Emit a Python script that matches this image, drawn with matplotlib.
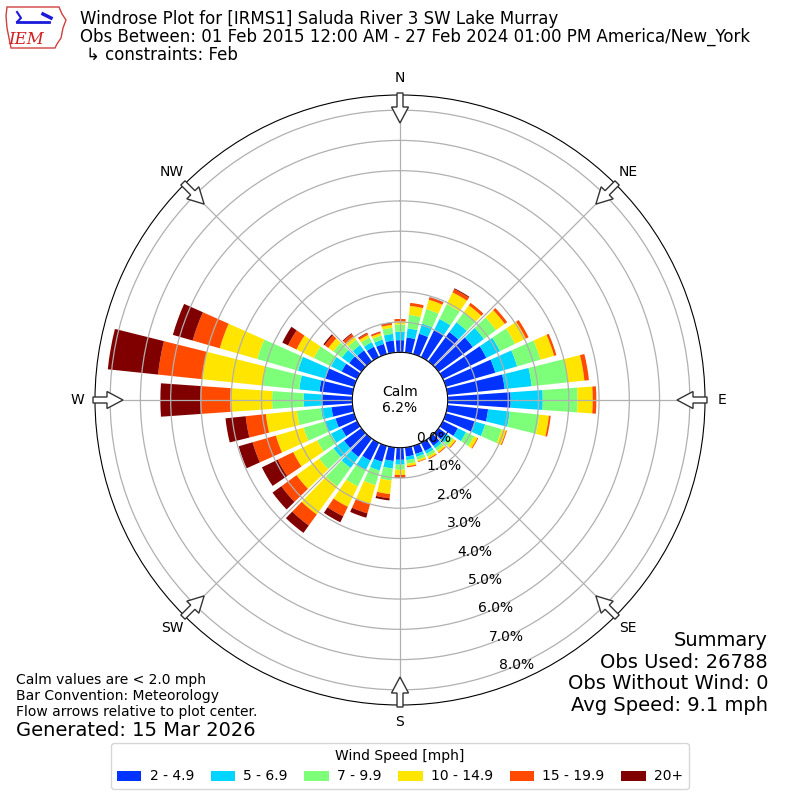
import numpy as np
import matplotlib
matplotlib.use("Agg")
import matplotlib.pyplot as plt
from matplotlib.patches import FancyArrow, Polygon

# direction bins (deg, meteorological), 10 deg wide
directions = np.arange(0, 360, 10)
speed_labels = ["2 - 4.9", "5 - 6.9", "7 - 9.9", "10 - 14.9", "15 - 19.9", "20+"]
speed_colors = ["#0033ff", "#00d4ff", "#7dff7a", "#ffe500", "#ff4a00", "#800000"]

# frequency [%] per direction for each speed bin, 0..350 deg
spd_2_5 = [0.40, 0.50, 0.70, 1.00, 1.20, 1.40, 1.60, 1.70, 1.90, 2.08, 1.35, 1.00,
           0.55, 0.30, 0.30, 0.30, 0.28, 0.30, 0.40, 0.45, 0.55, 0.65, 0.75, 0.71,
           0.57, 0.64, 0.70, 1.00, 1.10, 0.99, 0.57, 0.50, 0.45, 0.38, 0.35, 0.40]
spd_5_7 = [0.28, 0.30, 0.35, 0.40, 0.40, 0.45, 0.50, 0.75, 0.90, 1.06, 0.72, 0.35,
           0.30, 0.15, 0.10, 0.10, 0.10, 0.12, 0.16, 0.25, 0.30, 0.35, 0.45, 0.43,
           0.39, 0.35, 0.35, 0.61, 0.67, 0.94, 0.39, 0.30, 0.22, 0.17, 0.15, 0.22]
spd_7_10 = [0.24, 0.45, 0.50, 0.55, 0.42, 0.50, 0.55, 0.80, 1.20, 1.15, 0.98, 0.57,
            0.30, 0.15, 0.10, 0.10, 0.10, 0.12, 0.17, 0.40, 0.50, 0.60, 0.75, 0.58,
            0.51, 0.75, 0.80, 1.04, 1.22, 1.40, 0.63, 0.35, 0.22, 0.17, 0.14, 0.20]
spd_10_15 = [0.10, 0.30, 0.32, 0.43, 0.27, 0.35, 0.40, 0.47, 0.55, 0.50, 0.32, 0.15,
             0.12, 0.09, 0.07, 0.07, 0.06, 0.08, 0.17, 0.45, 0.65, 0.75, 1.15, 0.93,
             0.88, 0.95, 1.03, 1.38, 2.01, 1.29, 0.64, 0.20, 0.13, 0.10, 0.08, 0.10]
spd_15_20 = [0.08, 0.10, 0.08, 0.12, 0.10, 0.10, 0.10, 0.08, 0.15, 0.12, 0.06, 0.03,
             0.03, 0.03, 0.03, 0.03, 0.02, 0.04, 0.08, 0.14, 0.32, 0.35, 0.45, 0.62,
             0.57, 0.80, 0.67, 0.99, 1.46, 0.93, 0.31, 0.15, 0.10, 0.06, 0.05, 0.06]
spd_20 = [0.00, 0.00, 0.01, 0.03, 0.00, 0.00, 0.00, 0.00, 0.00, 0.00, 0.00, 0.00,
          0.00, 0.00, 0.00, 0.00, 0.00, 0.00, 0.02, 0.07, 0.15, 0.22, 0.30, 0.36,
          0.58, 0.48, 0.67, 1.32, 1.67, 0.68, 0.21, 0.05, 0.03, 0.02, 0.01, 0.02]

calm_pct = 6.2
rings = [0, 1, 2, 3, 4, 5, 6, 7, 8]
compass = ["N", "NE", "E", "SE", "S", "SW", "W", "NW"]

fig = plt.figure(figsize=(8, 8), dpi=100)
ax = fig.add_axes([95 / 800, 95 / 800, 610 / 800, 610 / 800], projection="polar")
ax.set_theta_zero_location("N")
ax.set_theta_direction(-1)
ax.set_rorigin(-1.576)
ax.set_ylim(0, 8.5)

theta = np.deg2rad(directions)
bottom = np.zeros(len(directions))
series = [spd_2_5, spd_5_7, spd_7_10, spd_10_15, spd_15_20, spd_20]
for vals, lab, col in zip(series, speed_labels, speed_colors):
    ax.bar(theta, vals, width=np.deg2rad(8), bottom=bottom, color=col,
           linewidth=0, label=lab, zorder=1)
    bottom += np.array(vals)

ax.set_thetagrids(range(0, 360, 45), labels=compass, fontsize=10)
ax.tick_params(axis="x", pad=2)
ax.set_rgrids(rings, labels=["%.1f%%" % r for r in rings], angle=160, fontsize=10)
ax.grid(True, color="#b0b0b0", lw=0.9)
ax.spines["polar"].set_color("black")
ax.spines["inner"].set_color("black")

ax.text(0, -1.576, "Calm\n%.1f%%" % calm_pct, ha="center", va="center",
        fontsize=10, zorder=5)

# flow arrows around the rim, pointing to the plot centre
for a in range(0, 360, 45):
    ux, uy = np.sin(np.deg2rad(a)), np.cos(np.deg2rad(a))
    x0 = 0.5 + 307 * ux / 800
    y0 = 0.5 + 307 * uy / 800
    fig.add_artist(FancyArrow(x0, y0, -30 * ux / 800, -30 * uy / 800,
                              width=6 / 800, head_width=17 / 800,
                              head_length=16 / 800, length_includes_head=True,
                              transform=fig.transFigure, facecolor="white",
                              edgecolor="#333333", lw=1, zorder=10))

# titles
fig.text(80 / 800, 1 - 19 / 800,
         "Windrose Plot for [IRMS1] Saluda River 3 SW Lake Murray",
         fontsize=12, va="center")
fig.text(80 / 800, 1 - 37 / 800,
         "Obs Between: 01 Feb 2015 12:00 AM - 27 Feb 2024 01:00 PM America/New_York",
         fontsize=12, va="center")
fig.text(86 / 800, 1 - 55 / 800, "\u21b3 constraints: Feb", fontsize=12, va="center")

# crude logo
lax = fig.add_axes([5 / 800, 1 - 50 / 800, 63 / 800, 45 / 800])
lax.set_xlim(0, 63)
lax.set_ylim(0, 45)
lax.axis("off")
lax.add_patch(Polygon([[2, 43], [54, 43], [57, 36], [61, 30], [58, 22], [56, 12],
                       [52, 6], [50, 2], [6, 2], [4, 12], [2, 22], [1, 34]],
                      closed=True, fill=False, edgecolor="#d04040", lw=1))
lax.plot([12, 44], [28, 28], color="#1a1adc", lw=2)
lax.plot([12, 16, 12], [38, 32, 28], color="#1a1adc", lw=1.5)
lax.plot([38, 46], [36, 32], color="#1a1adc", lw=2.5)
lax.text(21, 10, "IEM", color="#d02020", fontsize=12, style="italic",
         family="DejaVu Serif", ha="center", va="center")

# notes
fig.text(16 / 800, 1 - 696 / 800,
         "Calm values are < 2.0 mph\nBar Convention: Meteorology\nFlow arrows relative to plot center.",
         fontsize=10, va="center", linespacing=1.15)
fig.text(16 / 800, 1 - 730 / 800, "Generated: 15 Mar 2026", fontsize=14, va="center")
fig.text(768 / 800, 1 - 673 / 800,
         "Summary\nObs Used: 26788\nObs Without Wind: 0\nAvg Speed: 9.1 mph",
         fontsize=14, ha="right", va="center", linespacing=1.17)

leg = fig.legend(loc="lower center", bbox_to_anchor=(0.5, 0.005), ncol=6,
                 title="Wind Speed [mph]", fontsize=10, title_fontsize=10,
                 handlelength=1.75, handletextpad=0.6, columnspacing=1.2)

fig.savefig("out.png", dpi=100)
